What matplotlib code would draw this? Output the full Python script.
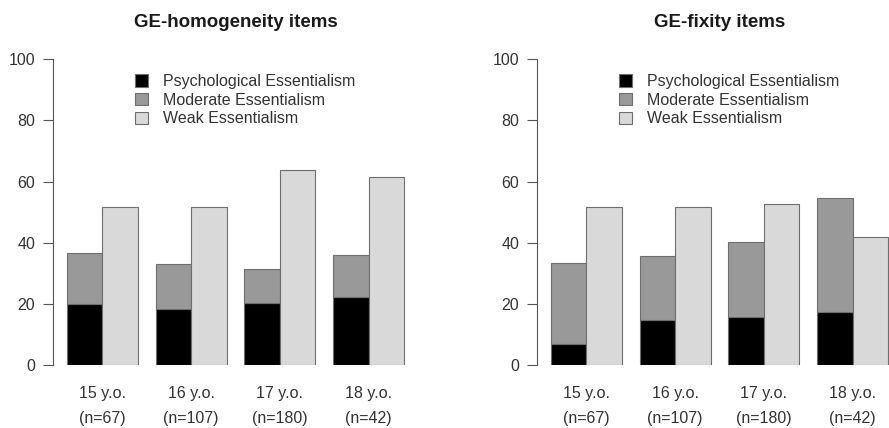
import matplotlib
matplotlib.use("Agg")
import matplotlib.pyplot as plt
import matplotlib.patches as mpatches
import numpy as np

plt.rcParams["font.family"] = ["Liberation Sans", "DejaVu Sans"]

# --- data (percent of participants) ---------------------------------------
ages = ["15 y.o.", "16 y.o.", "17 y.o.", "18 y.o."]
ns = ["(n=67)", "(n=107)", "(n=180)", "(n=42)"]
series = ["Psychological Essentialism", "Moderate Essentialism", "Weak Essentialism"]

homog_psych = [20.0, 18.2, 20.2, 22.1]
homog_moderate = [16.5, 15.0, 11.3, 13.9]
homog_weak = [51.6, 51.6, 63.9, 61.4]

fixity_psych = [7.0, 14.8, 15.6, 17.2]
fixity_moderate = [26.3, 21.0, 24.6, 37.4]
fixity_weak = [51.8, 51.8, 52.6, 41.9]

colors = ["#000000", "#999999", "#d9d9d9"]
edge = "#6e6e6e"
text_col = "#333333"
fs = 11.5

fig = plt.figure(figsize=(8.89, 4.28), dpi=100)

W, H = 889, 428


def panel(left_px, title, psych, moderate, weak):
    ax = fig.add_axes([left_px / W, (H - 365) / H, 364.4 / W, 305.7 / H])
    x = np.arange(len(ages)) * 2.5
    ax.bar(x, psych, width=1, align="edge", color=colors[0], edgecolor=edge, linewidth=0.8)
    ax.bar(x, moderate, width=1, bottom=psych, align="edge", color=colors[1],
           edgecolor=edge, linewidth=0.8)
    ax.bar(x + 1, weak, width=1, align="edge", color=colors[2], edgecolor=edge, linewidth=0.8)

    ax.set_xlim(-0.38, 9.88)
    ax.set_ylim(0, 100)
    for s in ["top", "right", "bottom"]:
        ax.spines[s].set_visible(False)
    ax.spines["left"].set_color("#555555")
    ax.spines["left"].set_linewidth(0.8)
    ax.set_yticks([0, 20, 40, 60, 80, 100])
    ax.tick_params(axis="y", length=7, width=0.8, color="#555555", pad=6,
                   labelsize=fs, labelcolor=text_col)
    ax.set_xticks([])

    for xi, a, n in zip(x + 1, ages, ns):
        ax.text(xi, -0.0916, a, transform=ax.get_xaxis_transform(), ha="center",
                va="center", fontsize=fs, color=text_col)
        ax.text(xi, -0.1734, n, transform=ax.get_xaxis_transform(), ha="center",
                va="center", fontsize=fs, color=text_col)

    ax.set_title(title, fontsize=13.5, fontweight="bold", color="#1a1a1a", pad=23)

    handles = [mpatches.Patch(facecolor=c, edgecolor=edge, linewidth=0.8) for c in colors]
    ax.legend(handles, series, loc="upper left", bbox_to_anchor=(0.2023, 0.978),
              frameon=False, borderpad=0, fontsize=fs, labelspacing=0.23,
              handlelength=0.81, handleheight=0.81, handletextpad=0.92,
              labelcolor=text_col)
    return ax


panel(53.3, "GE-homogeneity items", homog_psych, homog_moderate, homog_weak)
panel(537.3, "GE-fixity items", fixity_psych, fixity_moderate, fixity_weak)

fig.savefig("out.png", dpi=100, facecolor="white")
